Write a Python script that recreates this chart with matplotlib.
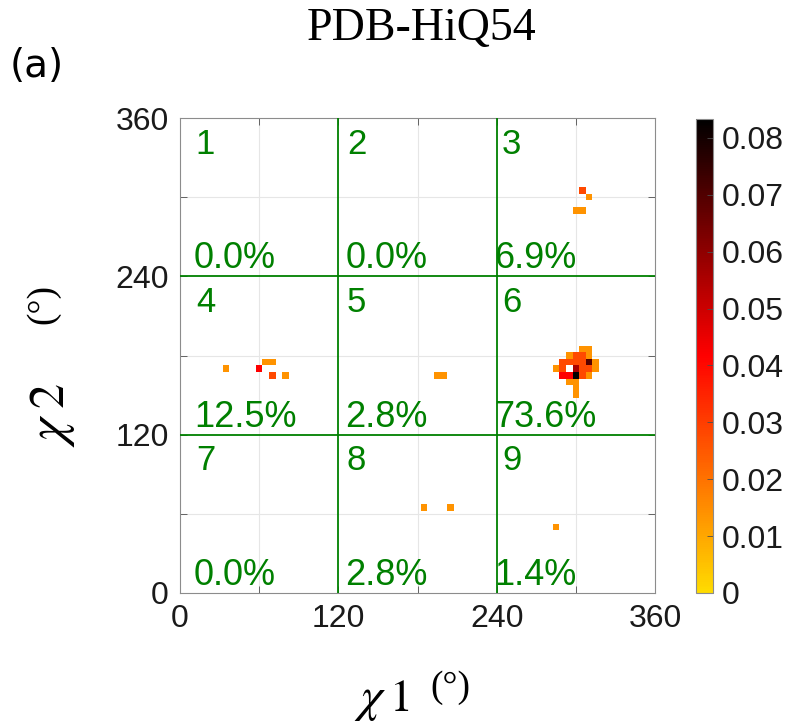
import numpy as np
import matplotlib.pyplot as plt
from matplotlib.colors import LinearSegmentedColormap

plt.rcParams['font.family'] = ['Liberation Sans', 'DejaVu Sans']
plt.rcParams['mathtext.fontset'] = 'stix'

# occupied 5-degree bins (bin centres, degrees) and number of side chains in each
chi1 = [35, 60, 65, 70, 70, 80,                      # region 4
        195, 200,                                    # region 5
        305, 310, 300, 305,                          # region 3
        305, 310,                                    # region 6 ...
        295, 300, 305, 310,
        290, 295, 300, 305, 310, 315,
        285, 290, 300, 305, 310, 315,
        290, 295, 300, 305, 310,
        295, 300,
        300,
        300,
        185, 205,                                    # region 8
        285]                                         # region 9
chi2 = [170, 170, 175, 175, 165, 165,
        165, 165,
        305, 300, 290, 290,
        185, 185,
        180, 180, 180, 180,
        175, 175, 175, 175, 175, 175,
        170, 170, 170, 170, 170, 170,
        165, 165, 165, 165, 165,
        160, 160,
        155,
        150,
        65, 65,
        50]
counts = [1, 3, 1, 1, 2, 1,
          1, 1,
          2, 1, 1, 1,
          1, 1,
          1, 2, 2, 1,
          2, 2, 2, 2, 5, 1,
          1, 2, 4, 2, 2, 1,
          3, 3, 6, 2, 1,
          1, 1,
          1,
          1,
          1, 1,
          1]

cb_ticks = [0, 0.01, 0.02, 0.03, 0.04, 0.05, 0.06, 0.07, 0.08]
title = 'PDB-HiQ54'

total = sum(counts)
centres = np.arange(0, 365, 5)
edges = np.arange(-2.5, 365, 5)
H = np.zeros((len(centres), len(centres)))
for a, b, c in zip(chi1, chi2, counts):
    H[b // 5, a // 5] += c / total
H = np.ma.masked_equal(H, 0)

cmap = LinearSegmentedColormap.from_list('ylrdbk', [(1, 0.86, 0), (1, 0, 0), (0, 0, 0)])

fig = plt.figure(figsize=(7.9, 7.22), dpi=100)
ax = fig.add_axes([180 / 790, 129 / 722, 475 / 790, 475 / 722])

for g in [60, 180, 300]:
    ax.axvline(g, color='0.9', lw=0.8, zorder=0)
    ax.axhline(g, color='0.9', lw=0.8, zorder=0)

pc = ax.pcolormesh(edges, edges, H, cmap=cmap, vmin=0, vmax=6 / total, zorder=1)

green = '#008000'
for g in [120, 240]:
    ax.axvline(g, color=green, lw=1.3, zorder=3)
    ax.axhline(g, color=green, lw=1.3, zorder=3)

# region numbers and share of structures in each region
num_dx = [12, 6.5, 4]
pct_dx = [10.5, 5.5, -2]
for k in range(9):
    row, col = divmod(k, 3)
    x0 = col * 120
    y0 = 240 - row * 120
    inside = [c for a, b, c in zip(chi1, chi2, counts)
              if x0 <= a < x0 + 120 and y0 <= b < y0 + 120]
    pct = 100.0 * sum(inside) / total
    ax.text(x0 + num_dx[col], y0 + 93, str(k + 1), color=green, fontsize=25,
            va='baseline', zorder=4)
    ax.text(x0 + pct_dx[col], y0 + 6, '%.1f%%' % pct, color=green, fontsize=26,
            va='baseline', zorder=4)

ax.set_xlim(0, 360)
ax.set_ylim(0, 360)
ticks = list(range(0, 361, 60))
labels = [str(t) if t % 120 == 0 else '' for t in ticks]
ax.set_xticks(ticks)
ax.set_xticklabels(labels)
ax.set_yticks(ticks)
ax.set_yticklabels(labels)
ax.tick_params(direction='in', length=5, width=0.6, color='0.3', labelsize=23,
               top=True, right=True, pad=8, labelcolor='0.1')
for s in ax.spines.values():
    s.set_color('0.55')
    s.set_linewidth(0.8)

cax = fig.add_axes([696 / 790, 129 / 722, 17 / 790, 474 / 722])
cb = fig.colorbar(pc, cax=cax, ticks=cb_ticks)
cb.ax.set_yticklabels(['0'] + ['%.2f' % t for t in cb_ticks[1:]])
cb.ax.tick_params(direction='in', length=4, width=0.6, color='0.3', labelsize=23, pad=6,
                  labelcolor='0.1')
cb.outline.set_edgecolor('0.55')
cb.outline.set_linewidth(0.8)

fig.text(422 / 790, 1 - 29 / 722, title, family='Liberation Serif', fontsize=33,
         ha='center', va='center')
fig.text(10 / 790, 1 - 66 / 722, '(a)', family='DejaVu Sans', fontsize=28,
         ha='left', va='center')

# axis labels: chi symbol, index, and a raised degree unit
fig.text(354 / 790, 1 - 711 / 722, r'$\chi$', fontsize=36, ha='left', va='baseline')
fig.text(389 / 790, 1 - 711 / 722, r'$\mathrm{1}$', fontsize=33, ha='left', va='baseline')
fig.text(450 / 790, 1 - 688 / 722, '(°)', family='Liberation Serif', fontsize=27,
         ha='center', va='center')
fig.text(64 / 790, 1 - 447 / 722, r'$\chi$', fontsize=38, rotation=90,
         rotation_mode='anchor', ha='left', va='baseline')
fig.text(64 / 790, 1 - 409 / 722, r'$\mathrm{2}$', fontsize=36, rotation=90,
         rotation_mode='anchor', ha='left', va='baseline')
fig.text(43 / 790, 1 - 304 / 722, '(°)', family='Liberation Serif', fontsize=27,
         rotation=90, ha='center', va='center')

fig.savefig('out.png', dpi=100)
